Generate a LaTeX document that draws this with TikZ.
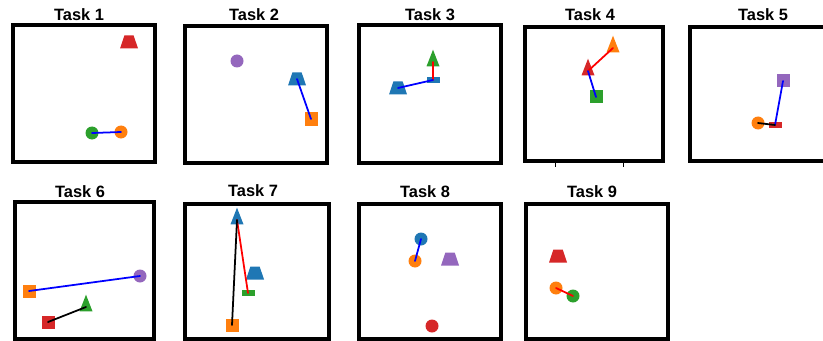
\documentclass[tikz,border=0pt]{standalone}
\usepackage{fontspec}
\setmainfont{Liberation Sans}
\usetikzlibrary{shapes.geometric}

\definecolor{tabblue}{HTML}{1F77B4}
\definecolor{taborange}{HTML}{FF7F0E}
\definecolor{tabgreen}{HTML}{2CA02C}
\definecolor{tabred}{HTML}{D62728}
\definecolor{tabpurple}{HTML}{9467BD}

\begin{document}
\begin{tikzpicture}[x=0.03cm, y=-0.03cm,
        frame/.style={draw, line width=3.4pt},
        title/.style={font=\fontsize{14}{16}\selectfont\bfseries},
        ball/.style={circle, inner sep=0, minimum size=0.39cm},
        box/.style={rectangle, inner sep=0, minimum size=0.39cm},
        flat/.style={rectangle, inner sep=0, minimum width=0.39cm, minimum height=0.2cm},
        tri/.style={isosceles triangle, isosceles triangle stretches, shape border rotate=90, inner sep=0.3pt, minimum width=0.39cm, minimum height=0.5cm},
        trap/.style={trapezium, trapezium stretches, trapezium left angle=65, trapezium right angle=65, inner sep=0.3pt, minimum width=0.54cm, minimum height=0.39cm},
        link/.style={line width=1.5pt, line cap=round}
    ]
    \useasboundingbox (0,0) rectangle (823,341);
    \clip (0,0) rectangle (823,341);

    % Frames and titles
    \draw[frame] (13,25) rectangle (155,162);
    \draw[frame] (185,26) rectangle (327,163);
    \draw[frame] (359,25) rectangle (501,163);
    \draw[frame] (525,27) rectangle (663,161);
    \draw[frame] (690,27) rectangle (826,161);
    \draw[frame] (15,202) rectangle (154,339);
    \draw[frame] (185,204) rectangle (329,339);
    \draw[frame] (359,204) rectangle (501,339);
    \draw[frame] (526,204) rectangle (668,339);
    \draw (555,163) -- (555,167);
    \draw (623,163) -- (623,167);

    \node[title] (title1) at (79,15) {Task 1};
    \node[title] (title2) at (254,15) {Task 2};
    \node[title] (title3) at (430,15) {Task 3};
    \node[title] (title4) at (590,15) {Task 4};
    \node[title] (title5) at (763,15) {Task 5};
    \node[title] (title6) at (80,192) {Task 6};
    \node[title] (title7) at (253,191) {Task 7};
    \node[title] (title8) at (425,192) {Task 8};
    \node[title] (title9) at (592,192) {Task 9};

    % Task 1
    \node[trap, fill=tabred] (redtrap1) at (129,42) {};
    \node[ball, fill=tabgreen] (greenball1) at (92,133) {};
    \node[ball, fill=taborange] (orangeball1) at (121,132) {};
    \draw[link, blue] (greenball1.center) -- (orangeball1.center);

    % Task 2
    \node[ball, fill=tabpurple] (purpleball2) at (237,61) {};
    \node[trap, fill=tabblue] (bluetrap2) at (297,79) {};
    \node[box, fill=taborange] (orangebox2) at (311,119) {};
    \draw[link, blue] (bluetrap2.center) -- (orangebox2.center);

    % Task 3
    \node[tri, fill=tabgreen] (greentri3) at (433,62) {};
    \node[flat, fill=tabblue] (blueflat3) at (433,80) {};
    \node[trap, fill=tabblue] (bluetrap3) at (398,88) {};
    \draw[link, red] (blueflat3.center) -- (greentri3.center);
    \draw[link, blue] (bluetrap3.center) -- (blueflat3.center);

    % Task 4
    \node[tri, fill=taborange] (orangetri4) at (613,48) {};
    \node[tri, fill=tabred] (redtri4) at (588,71) {};
    \node[box, fill=tabgreen] (greenbox4) at (596,97) {};
    \draw[link, red] (orangetri4.center) -- (redtri4.center);
    \draw[link, blue] (greenbox4.center) -- (redtri4.center);

    % Task 5
    \node[box, fill=tabpurple] (purplebox5) at (783,81) {};
    \node[flat, fill=tabred] (redflat5) at (775,125) {};
    \node[ball, fill=taborange] (orangeball5) at (758,123) {};
    \draw[link, blue] (redflat5.center) -- (purplebox5.center);
    \draw[link, black] (orangeball5.center) -- (redflat5.center);

    % Task 6
    \node[box, fill=taborange] (orangebox6) at (29,291) {};
    \node[ball, fill=tabpurple] (purpleball6) at (140,276) {};
    \node[tri, fill=tabgreen] (greentri6) at (86,307) {};
    \node[box, fill=tabred] (redbox6) at (48,322) {};
    \draw[link, blue] (orangebox6.center) -- (purpleball6.center);
    \draw[link, black] (redbox6.center) -- (greentri6.center);

    % Task 7
    \node[tri, fill=tabblue] (bluetri7) at (237,220) {};
    \node[trap, fill=tabblue] (bluetrap7) at (255,273) {};
    \node[flat, fill=tabgreen] (greenflat7) at (248,293) {};
    \node[box, fill=taborange] (orangebox7) at (232,325) {};
    \draw[link, red] (bluetri7.center) -- (greenflat7.center);
    \draw[link, black] (orangebox7.center) -- (bluetri7.center);

    % Task 8
    \node[ball, fill=tabblue] (blueball8) at (421,239) {};
    \node[ball, fill=taborange] (orangeball8) at (415,261) {};
    \node[trap, fill=tabpurple] (purpletrap8) at (450,259) {};
    \node[ball, fill=tabred] (redball8) at (432,326) {};
    \draw[link, blue] (orangeball8.center) -- (blueball8.center);

    % Task 9
    \node[trap, fill=tabred] (redtrap9) at (558,256) {};
    \node[ball, fill=taborange] (orangeball9) at (556,288) {};
    \node[ball, fill=tabgreen] (greenball9) at (573,296) {};
    \draw[link, red] (orangeball9.center) -- (greenball9.center);

\end{tikzpicture}
\end{document}
